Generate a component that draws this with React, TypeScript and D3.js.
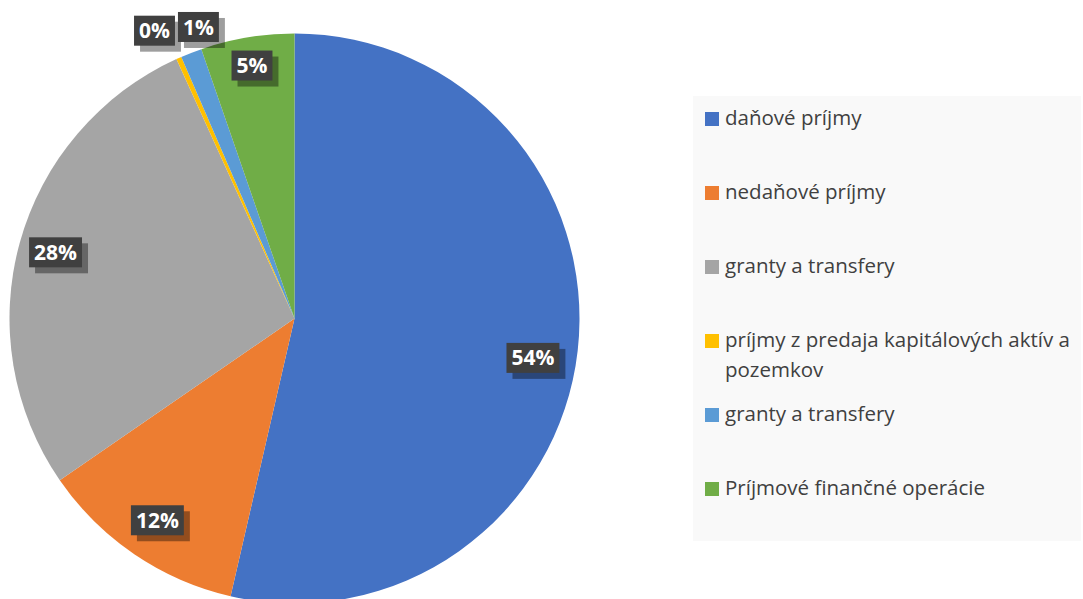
import React, { useLayoutEffect, useRef, useState } from "react";
import * as d3 from "d3";

const categories = [
  "daňové príjmy",
  "nedaňové príjmy",
  "granty a transfery",
  "príjmy z predaja kapitálových aktív a pozemkov",
  "granty a transfery",
  "Príjmové finančné operácie",
];
const values = [53.6, 11.8, 27.8, 0.3, 1.2, 5.3];
const colors = ["#4472C4", "#ED7D31", "#A5A5A5", "#FFC000", "#5B9BD5", "#70AD47"];
const legendLines = [
  ["daňové príjmy"],
  ["nedaňové príjmy"],
  ["granty a transfery"],
  ["príjmy z predaja kapitálových aktív a", "pozemkov"],
  ["granty a transfery"],
  ["Príjmové finančné operácie"],
];

// label placement (Excel best-fit): radius factor and angular nudge in degrees
const labelRadius = [0.848, 0.856, 0.87, 1.123, 1.077, 0.9];
const labelNudge = [2.9, 0, 0, -2, 3, 0];

const W = 1083;
const H = 599;
const cx = 294.5;
const cy = 318.5;
const R = 285;

function Label({ x, y, text }: { x: number; y: number; text: string }) {
  const ref = useRef<SVGTextElement>(null);
  const [w, setW] = useState(text.length * 14);
  useLayoutEffect(() => {
    if (ref.current) setW(ref.current.getComputedTextLength());
  }, [text]);
  const bw = w + 10;
  const bh = 30;
  return (
    <g transform={`translate(${x},${y})`}>
      <rect x={-bw / 2 + 6} y={-bh / 2 + 6} width={bw} height={bh} fill="rgba(0,0,0,0.38)" />
      <rect x={-bw / 2} y={-bh / 2} width={bw} height={bh} fill="#404040" />
      <text
        ref={ref}
        x={0}
        y={0}
        dy="0.36em"
        textAnchor="middle"
        fill="#fff"
        fontFamily="'Open Sans', sans-serif"
        fontWeight="bold"
        fontSize={21}
      >
        {text}
      </text>
    </g>
  );
}

export default function App() {
  const total = d3.sum(values);
  const pie = d3
    .pie<number>()
    .sort(null)
    .value((d) => d)(values);
  const arc = d3.arc<d3.PieArcDatum<number>>().innerRadius(0).outerRadius(R);

  const legendX = 693;
  const legendY = 96;
  const legendW = 388;
  const legendH = 445;
  const firstBaseline = 125;
  const step = 74;

  return (
    <div style={{ position: "fixed", left: 0, top: 0 }}>
      <svg width={W} height={H} style={{ display: "block" }}>
        <rect width={W} height={H} fill="#fff" />
        <g transform={`translate(${cx},${cy})`}>
          {pie.map((p, i) => (
            <path key={i} d={arc(p) || ""} fill={colors[i]} />
          ))}
        </g>
        {pie.map((p, i) => {
          const mid = (p.startAngle + p.endAngle) / 2 + (labelNudge[i] * Math.PI) / 180;
          const r = R * labelRadius[i];
          const x = cx + r * Math.sin(mid);
          const y = cy - r * Math.cos(mid);
          const pct = Math.round((values[i] / total) * 100) + "%";
          return <Label key={i} x={x} y={y} text={pct} />;
        })}
        <rect x={legendX} y={legendY} width={legendW} height={legendH} fill="#f9f9f9" />
        {categories.map((c, i) => {
          const by = firstBaseline + i * step;
          return (
            <g key={i}>
              <rect x={705} y={by - 13} width={14} height={14} fill={colors[i]} />
              <text
                x={725}
                y={by}
                fill="#404040"
                fontFamily="'Open Sans', sans-serif"
                fontSize={20.5}
              >
                {legendLines[i].map((l, j) => (
                  <tspan key={j} x={725} dy={j === 0 ? 0 : 30}>
                    {l}
                  </tspan>
                ))}
              </text>
            </g>
          );
        })}
      </svg>
    </div>
  );
}
